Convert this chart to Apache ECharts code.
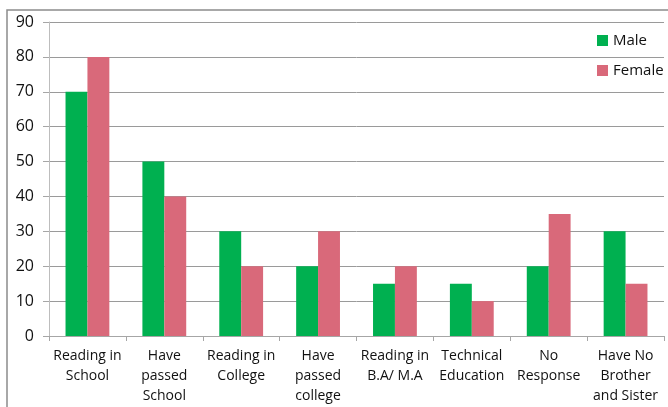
<!DOCTYPE html>
<html>
<head>
<meta charset="utf-8">
<script src="https://cdn.jsdelivr.net/npm/echarts@6/dist/echarts.min.js"></script>
<style>
    html, body { margin: 0; padding: 0; background: #fff; }
    #chart { width: 668px; height: 407px; }
</style>
</head>
<body>
<div id="chart"></div>
<script>
    var categories = [
        'Reading in\nSchool',
        'Have\npassed\nSchool',
        'Reading in\nCollege',
        'Have\npassed\ncollege',
        'Reading in\nB.A/ M.A',
        'Technical\nEducation',
        'No\nResponse',
        'Have No\nBrother\nand Sister'
    ];
    var maleValues = [70, 50, 30, 20, 15, 15, 20, 30];
    var femaleValues = [80, 40, 20, 30, 20, 10, 35, 15];

    var font = "'Open Sans', sans-serif";
    var chart = echarts.init(document.getElementById('chart'));
    chart.setOption({
        animation: false,
        color: ['#00b050', '#d9697a'],
        graphic: [
            {
                type: 'rect',
                shape: {x: 7, y: 10, width: 700, height: 450},
                style: {fill: null, stroke: '#8c8c8c', lineWidth: 1.5},
                silent: true
            }
        ],
        legend: {
            orient: 'vertical',
            left: 592,
            top: 28,
            itemWidth: 11,
            itemHeight: 11,
            itemGap: 15,
            icon: 'rect',
            textStyle: {fontFamily: font, fontSize: 15, color: '#111'},
            data: ['Male', 'Female']
        },
        grid: {left: 49, top: 22, right: 4, bottom: 71},
        xAxis: {
            type: 'category',
            data: categories,
            axisLine: {lineStyle: {color: '#a6a6a6'}},
            axisTick: {show: true, length: 5, alignWithLabel: false, lineStyle: {color: '#a6a6a6'}},
            axisLabel: {
                interval: 0,
                fontFamily: font,
                fontSize: 14,
                lineHeight: 20,
                margin: 10,
                color: '#111'
            }
        },
        yAxis: {
            type: 'value',
            min: 0,
            max: 90,
            interval: 10,
            axisLine: {show: true, lineStyle: {color: '#bdbdbd'}},
            axisTick: {show: true, length: 6, lineStyle: {color: '#a6a6a6'}},
            splitLine: {lineStyle: {color: '#9a9a9a'}},
            axisLabel: {fontFamily: font, fontSize: 16, color: '#111', margin: 15}
        },
        series: [
            {
                name: 'Male',
                type: 'bar',
                data: maleValues,
                barGap: '0%',
                barCategoryGap: '43%'
            },
            {
                name: 'Female',
                type: 'bar',
                data: femaleValues
            }
        ]
    });
</script>
</body>
</html>
